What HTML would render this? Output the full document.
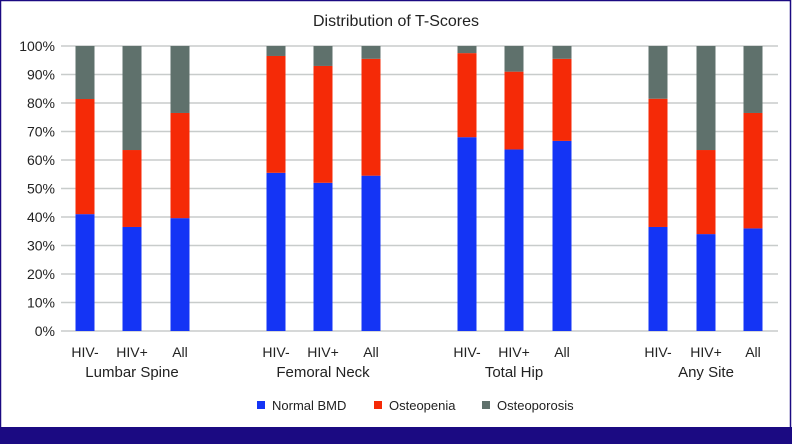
<!DOCTYPE html>
<html><head><meta charset="utf-8"><style>
html,body{margin:0;padding:0;background:#fff}
svg{display:block;font-family:"Liberation Sans",sans-serif}
</style></head><body>
<svg id="chart" width="792" height="444">
<rect x="0.5" y="0.5" width="790" height="440" fill="#fff" stroke="#1b0a82" stroke-width="1.5"/>
<rect x="0" y="427" width="792" height="17" fill="#1b0a82"/>
<text x="396" y="26" font-size="16" text-anchor="middle" fill="#222">Distribution of T-Scores</text>
<g id="grid"></g><g id="bars"></g><g id="labels"></g>
<g id="legend"></g>
</svg>
<script>
const groups=["Lumbar Spine","Femoral Neck","Total Hip","Any Site"];
const subs=["HIV-","HIV+","All"];
const normal=[41,36.5,39.6,55.5,52,54.5,68,63.7,66.7,36.5,34,36];
const osteopenia=[40.4,27,36.9,41,41,41,29.5,27.3,28.8,45,29.5,40.5];
const ticks=[0,10,20,30,40,50,60,70,80,90,100];
const seriesNames=["Normal BMD","Osteopenia","Osteoporosis"];
const colors=["#1434f5","#f52a07","#5f716c"];
const NS="http://www.w3.org/2000/svg";
const y0=331,y1=46;
function yScale(v){return y0-(y0-y1)*v/100;}
const centers=[85,132,180,276,323,371,467,514,562,658,706,753];
function xCenter(i){return centers[i];}
function mk(t,a,p){const e=document.createElementNS(NS,t);for(const k in a)e.setAttribute(k,a[k]);p.appendChild(e);return e;}
const grid=document.getElementById('grid');
ticks.forEach(t=>{
  const l=mk('line',{x1:61,x2:778,y1:yScale(t),y2:yScale(t),stroke:'#c8cccb','stroke-width':1.5},grid);
  
  
  const tx=mk('text',{x:55,y:yScale(t)+5,'font-size':14,'text-anchor':'end',fill:'#222'},grid);
  tx.textContent=t+'%';
  
  
});
const bars=document.getElementById('bars');
normal.forEach((n,i)=>{
  const vals=[n,osteopenia[i],100-n-osteopenia[i]];
  let acc=0;
  vals.forEach((v,s)=>{
    const r=mk('rect',{x:xCenter(i)-9.5,width:19,y:yScale(acc+v),height:yScale(acc)-yScale(acc+v),fill:colors[s]},bars);
    
    
    acc+=v;
  });
});
const labels=document.getElementById('labels');
normal.forEach((n,i)=>{
  const t=mk('text',{x:xCenter(i),y:357,'font-size':14,'text-anchor':'middle',fill:'#222'},labels);
  t.textContent=subs[i%3];
  
  
});
groups.forEach((g,k)=>{
  const t=mk('text',{x:xCenter(k*3+1),y:377,'font-size':15,'text-anchor':'middle',fill:'#222'},labels);
  t.textContent=g;
  
  
});
const leg=document.getElementById('legend');
const lx=[257,374,482];
seriesNames.forEach((s,i)=>{
  const r=mk('rect',{x:lx[i],y:401,width:8,height:8,fill:colors[i]},leg);
  
  
  const t=mk('text',{x:lx[i]+15,y:410,'font-size':13,fill:'#222'},leg);
  t.textContent=s;
  
  
});
</script>
</body></html>
